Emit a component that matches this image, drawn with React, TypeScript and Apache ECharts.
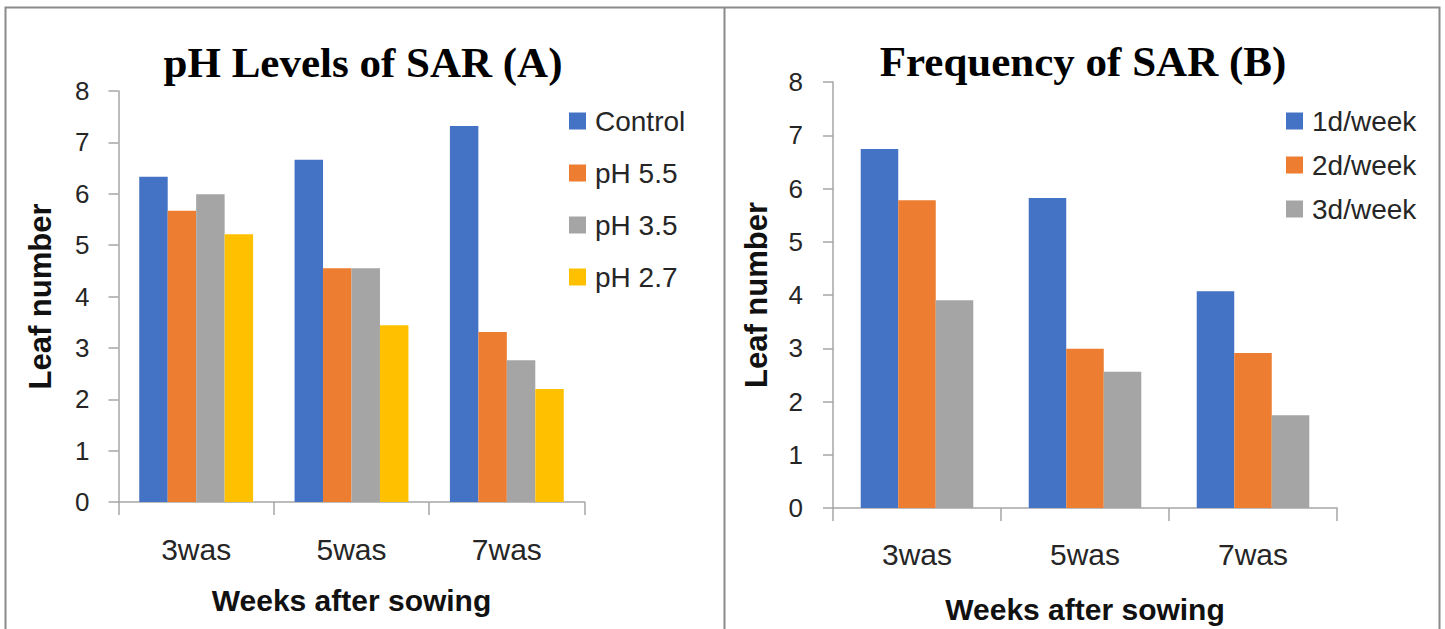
import React, { useEffect, useRef } from "react";
import * as echarts from "echarts";

const categories = ["3was", "5was", "7was"];
const phNames = ["Control", "pH 5.5", "pH 3.5", "pH 2.7"];
const control = [6.33, 6.66, 7.32];
const ph55 = [5.67, 4.55, 3.31];
const ph35 = [5.99, 4.55, 2.76];
const ph27 = [5.21, 3.44, 2.2];
const freqNames = ["1d/week", "2d/week", "3d/week"];
const d1 = [6.74, 5.82, 4.07];
const d2 = [5.78, 2.99, 2.91];
const d3 = [3.9, 2.56, 1.74];
const titles = ["pH Levels of SAR (A)", "Frequency of SAR (B)"];
const xName = "Weeks after sowing";
const yName = "Leaf number";
const yMin = 0;
const yMax = 8;
const yStep = 1;

const SANS = "Liberation Sans";
const TEXT = "#262626";
const AXIS = "#a6a6a6";

function xAxis(gridIndex: number, nameGap: number, margin: number) {
  return {
    type: "category",
    gridIndex,
    data: categories,
    name: xName,
    nameLocation: "middle",
    nameGap,
    nameTextStyle: { fontFamily: SANS, fontWeight: "bold", fontSize: 30, color: "#111" },
    axisLine: { show: true, lineStyle: { color: AXIS, width: 1.5 } },
    axisTick: { show: true, length: 13, lineStyle: { color: AXIS, width: 1.5 } },
    axisLabel: { fontFamily: SANS, fontSize: 30, color: TEXT, margin },
    splitLine: { show: false },
  };
}

function yAxis(gridIndex: number, nameGap: number, margin: number) {
  return {
    type: "value",
    gridIndex,
    min: yMin,
    max: yMax,
    interval: yStep,
    name: yName,
    nameLocation: "middle",
    nameGap,
    nameTextStyle: { fontFamily: SANS, fontWeight: "bold", fontSize: 31, color: "#111" },
    axisLine: { show: true, lineStyle: { color: AXIS, width: 1.5 } },
    axisTick: { show: true, length: 10, lineStyle: { color: AXIS, width: 1.5 } },
    axisLabel: { fontFamily: SANS, fontSize: 26, color: TEXT, margin },
    splitLine: { show: false },
  };
}

function bar(name: string, data: number[], color: string, idx: number, gap: string) {
  return {
    type: "bar",
    name,
    data,
    xAxisIndex: idx,
    yAxisIndex: idx,
    barGap: "0%",
    barCategoryGap: gap,
    itemStyle: { color },
  };
}

function legend(names: string[], left: number, top: number, itemGap: number) {
  return {
    data: names,
    orient: "vertical",
    left,
    top,
    padding: 0,
    itemWidth: 17,
    itemHeight: 17,
    itemGap,
    icon: "rect",
    textStyle: { fontFamily: SANS, fontSize: 28, color: TEXT, padding: [0, 0, 0, 4] },
  };
}

export default function App() {
  const ref = useRef<HTMLDivElement>(null);
  useEffect(() => {
    document.body.style.margin = "0";
    const chart = echarts.init(ref.current!, undefined, { renderer: "svg" });
    chart.setOption({
      animation: false,
      backgroundColor: "#ffffff",
      grid: [
        { left: 118.5, top: 91, width: 466, height: 411 },
        { left: 833, top: 82, width: 504, height: 426 },
      ],
      xAxis: [xAxis(0, 83, 32), xAxis(1, 86, 31)],
      yAxis: [yAxis(0, 63, 29), yAxis(1, 61, 30)],
      legend: [legend(phNames, 569, 107, 24), legend(freqNames, 1286, 107, 16)],
      series: [
        bar(phNames[0], control, "#4472C4", 0, "26.7%"),
        bar(phNames[1], ph55, "#ED7D31", 0, "26.7%"),
        bar(phNames[2], ph35, "#A5A5A5", 0, "26.7%"),
        bar(phNames[3], ph27, "#FFC000", 0, "26.7%"),
        bar(freqNames[0], d1, "#4472C4", 1, "33%"),
        bar(freqNames[1], d2, "#ED7D31", 1, "33%"),
        bar(freqNames[2], d3, "#A5A5A5", 1, "33%"),
      ],
      graphic: [
        {
          type: "polyline",
          shape: { points: [[5.5, 640], [5.5, 7.5], [1439.5, 7.5], [1439.5, 640]] },
          style: { stroke: "#8a8a8a", lineWidth: 2, fill: "none" },
          silent: true,
        },
        {
          type: "line",
          shape: { x1: 724.5, y1: 7.5, x2: 724.5, y2: 640 },
          style: { stroke: "#8a8a8a", lineWidth: 2 },
          silent: true,
        },
        {
          type: "text",
          x: 363,
          y: 62,
          style: {
            text: titles[0],
            fontFamily: "Liberation Serif",
            fontWeight: "bold",
            fontSize: 43,
            fill: "#000",
            textAlign: "center",
            textVerticalAlign: "middle",
          },
        },
        {
          type: "text",
          x: 1083,
          y: 61,
          style: {
            text: titles[1],
            fontFamily: "Liberation Serif",
            fontWeight: "bold",
            fontSize: 43,
            fill: "#000",
            textAlign: "center",
            textVerticalAlign: "middle",
          },
        },
      ],
    });
    return () => chart.dispose();
  }, []);
  return <div ref={ref} style={{ width: 1445, height: 629 }} />;
}
